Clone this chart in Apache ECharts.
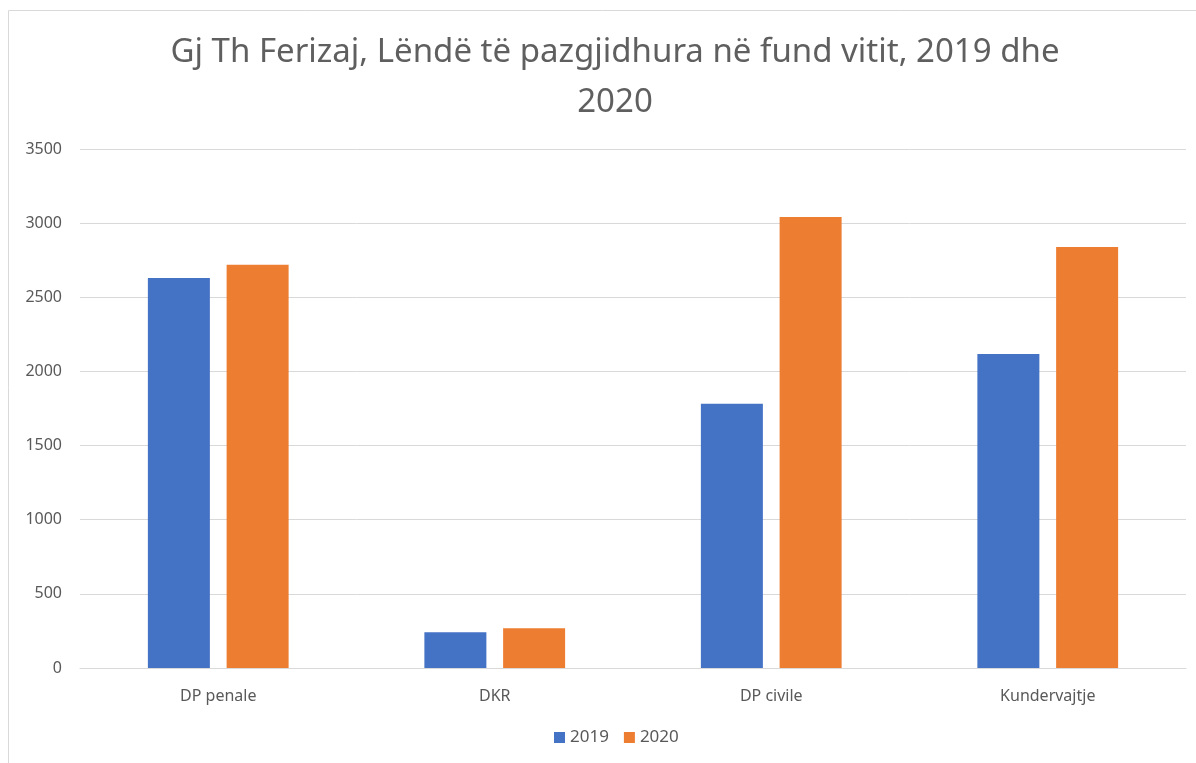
<!DOCTYPE html>
<html>
<head>
<meta charset="utf-8">
<script src="https://cdn.jsdelivr.net/npm/echarts@6/dist/echarts.min.js"></script>
<style>
    html, body { margin: 0; padding: 0; background: #fff; }
    #chart { width: 1196px; height: 763px; }
</style>
</head>
<body>
<div id="chart"></div>
<script>
// kategorite dhe vlerat
var categories = ['DP penale', 'DKR', 'DP civile', 'Kundervajtje'];
var values2019 = [2630, 241, 1782, 2118];
var values2020 = [2720, 268, 3042, 2839];
var yTicks = [0, 500, 1000, 1500, 2000, 2500, 3000, 3500];

var chart = echarts.init(document.getElementById('chart'));
chart.setOption({
    animation: false,
    textStyle: { fontFamily: 'Noto Sans' },
    graphic: [{
        type: 'rect',
        z: -1,
        shape: { x: 8.5, y: 10.5, width: 1300, height: 1000 },
        style: { fill: 'none', stroke: '#d9d9d9', lineWidth: 1 }
    }],
    title: {
        text: 'Gj Th Ferizaj, Lëndë të pazgjidhura në fund vitit, 2019 dhe\n2020',
        left: 610,
        textAlign: 'center',
        top: 23,
        textStyle: {
            fontSize: 33,
            fontWeight: 'normal',
            color: '#5f5f5f',
            lineHeight: 50
        }
    },
    legend: {
        bottom: 12,
        left: 549,
        itemWidth: 11,
        itemHeight: 11,
        itemGap: 15,
        icon: 'rect',
        textStyle: { fontSize: 17, color: '#595959' },
        data: ['2019', '2020']
    },
    grid: {
        left: 80,
        right: 10,
        top: 149,
        bottom: 95,
        outerBoundsMode: 'none'
    },
    xAxis: {
        type: 'category',
        data: categories,
        axisTick: { show: false },
        axisLine: { lineStyle: { color: '#d9d9d9', width: 1 } },
        axisLabel: { fontSize: 16, color: '#595959', margin: 20 }
    },
    yAxis: {
        type: 'value',
        min: 0,
        max: 3500,
        interval: 500,
        axisLine: { show: false },
        axisTick: { show: false },
        splitLine: { lineStyle: { color: '#d9d9d9', width: 1 } },
        axisLabel: { fontSize: 16, color: '#595959', margin: 18,
            formatter: function (v) { return yTicks.indexOf(v) >= 0 ? String(v) : ''; } }
    },
    series: [
        {
            name: '2019',
            type: 'bar',
            data: values2019,
            barWidth: 62,
            barGap: '27%',
            itemStyle: { color: '#4472c4' }
        },
        {
            name: '2020',
            type: 'bar',
            data: values2020,
            barWidth: 62,
            barGap: '27%',
            itemStyle: { color: '#ed7d31' }
        }
    ]
});
</script>
</body>
</html>
